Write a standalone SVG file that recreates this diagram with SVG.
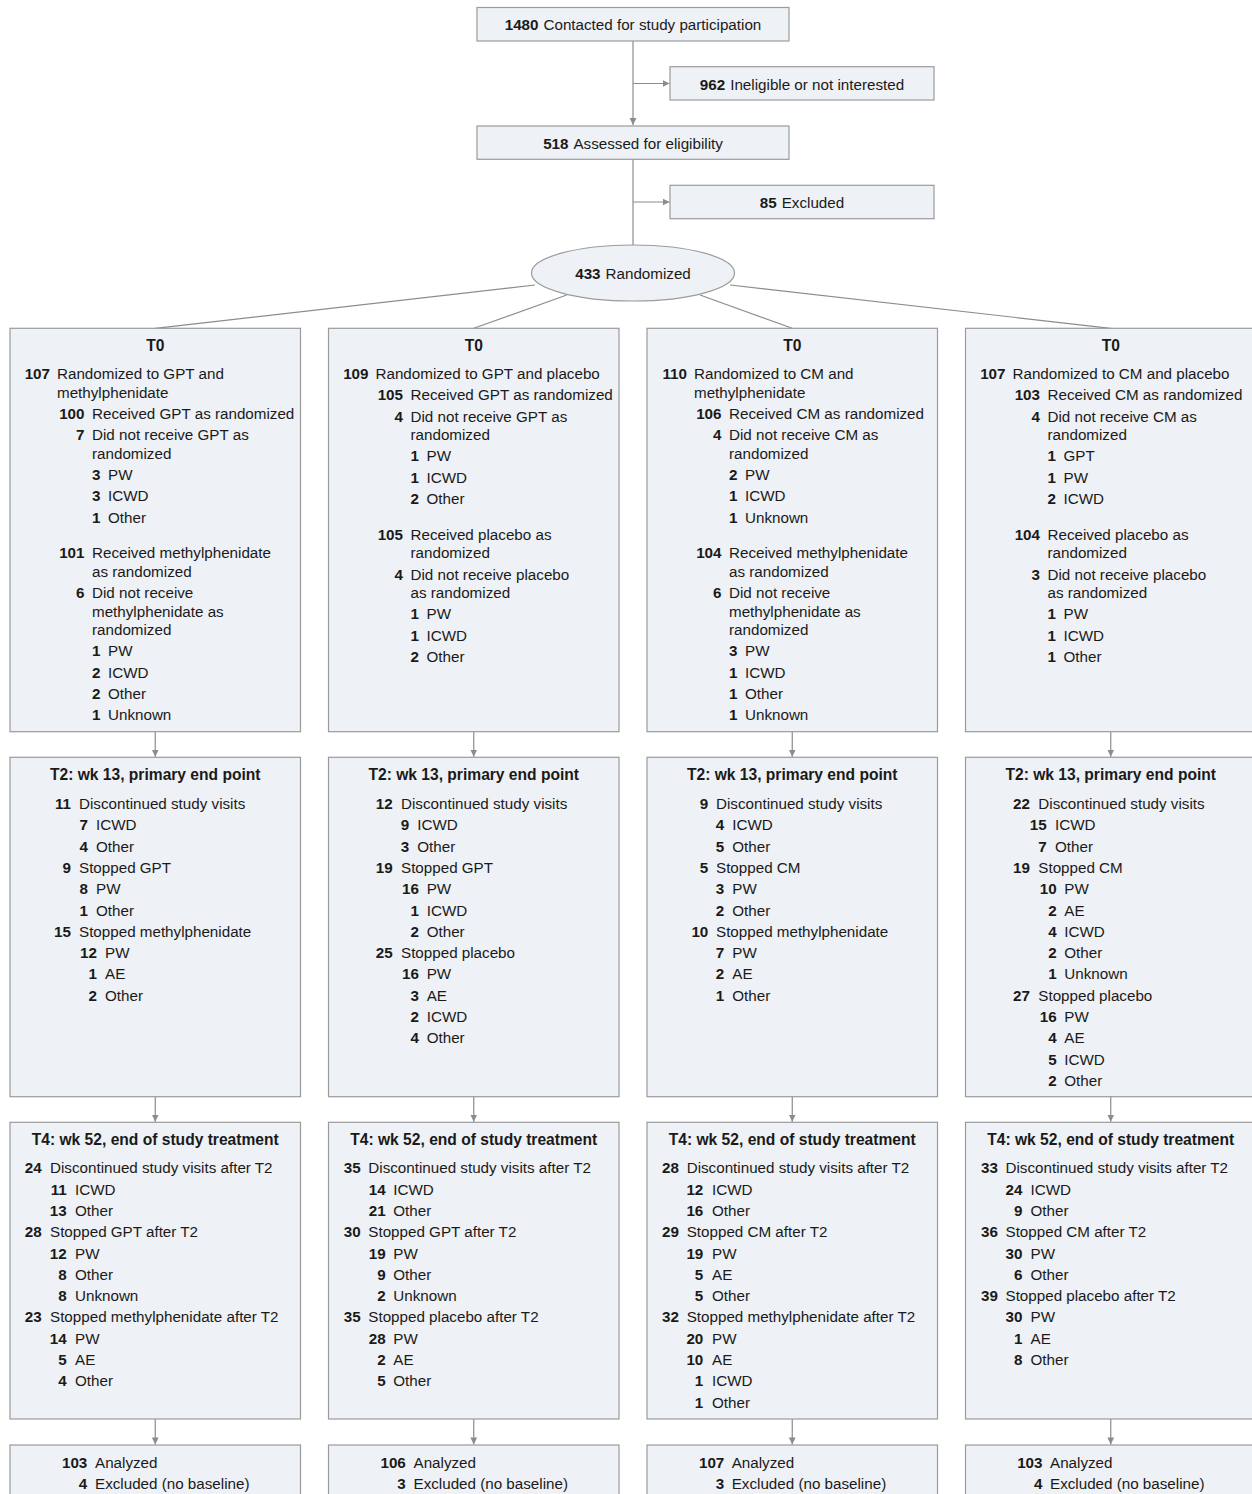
<svg xmlns="http://www.w3.org/2000/svg" width="1252" height="1494" viewBox="0 0 1252 1494">
<style>
text { font-family: "Liberation Sans", Arial, sans-serif; font-size: 15.2px; fill: #1a1a1a; }
.n { font-weight: bold; text-anchor: end; }
.b { font-weight: bold; }
.h { font-weight: bold; text-anchor: middle; font-size: 15.6px; }
.c { text-anchor: middle; }
.box { fill: #eef1f5; stroke: #9b9b9b; stroke-width: 1.2; }
.ln { stroke: #8c8c8c; stroke-width: 1.2; fill: none; }
</style>
<defs>
<marker id="ah" markerWidth="8" markerHeight="8" refX="7" refY="4" orient="auto" markerUnits="userSpaceOnUse"><path d="M0,0.6 L7,4 L0,7.4 Z" fill="#8c8c8c"/></marker>
</defs>
<rect width="1252" height="1494" fill="#ffffff"/>

<g id="connectors">
<path class="ln" d="M633,41 V125" marker-end="url(#ah)"/>
<path class="ln" d="M633,83.5 H669.5" marker-end="url(#ah)"/>
<path class="ln" d="M633,159.3 V245"/>
<path class="ln" d="M633,202 H669.5" marker-end="url(#ah)"/>
<path class="ln" d="M535,285 L155.25,328.3"/>
<path class="ln" d="M566.7,295 L473.75,328.3"/>
<path class="ln" d="M700,295 L792.25,328.3"/>
<path class="ln" d="M730,285 L1110.75,328.3"/>
<path class="ln" d="M155.25,731.7 V756.7" marker-end="url(#ah)"/>
<path class="ln" d="M473.75,731.7 V756.7" marker-end="url(#ah)"/>
<path class="ln" d="M792.25,731.7 V756.7" marker-end="url(#ah)"/>
<path class="ln" d="M1110.75,731.7 V756.7" marker-end="url(#ah)"/>
<path class="ln" d="M155.25,1096.7 V1121.7" marker-end="url(#ah)"/>
<path class="ln" d="M473.75,1096.7 V1121.7" marker-end="url(#ah)"/>
<path class="ln" d="M792.25,1096.7 V1121.7" marker-end="url(#ah)"/>
<path class="ln" d="M1110.75,1096.7 V1121.7" marker-end="url(#ah)"/>
<path class="ln" d="M155.25,1419 V1444.4" marker-end="url(#ah)"/>
<path class="ln" d="M473.75,1419 V1444.4" marker-end="url(#ah)"/>
<path class="ln" d="M792.25,1419 V1444.4" marker-end="url(#ah)"/>
<path class="ln" d="M1110.75,1419 V1444.4" marker-end="url(#ah)"/>
</g>

<g id="contacted">
<rect class="box" x="477" y="7.5" width="312" height="33.5"/>
<text class="c" x="633" y="30"><tspan class="b">1480</tspan><tspan dx="5">Contacted for study participation</tspan></text>
</g>
<g id="ineligible">
<rect class="box" x="670" y="66.7" width="264" height="33.3"/>
<text class="c" x="802" y="89.5"><tspan class="b">962</tspan><tspan dx="5">Ineligible or not interested</tspan></text>
</g>
<g id="assessed">
<rect class="box" x="477" y="126" width="312" height="33.3"/>
<text class="c" x="633" y="148.5"><tspan class="b">518</tspan><tspan dx="5">Assessed for eligibility</tspan></text>
</g>
<g id="excluded">
<rect class="box" x="670" y="185.3" width="264" height="33.4"/>
<text class="c" x="802" y="207.8"><tspan class="b">85</tspan><tspan dx="5">Excluded</tspan></text>
</g>
<g id="randomized">
<ellipse class="box" cx="633" cy="273" rx="101.5" ry="28"/>
<text class="c" x="633" y="278.5"><tspan class="b">433</tspan><tspan dx="5">Randomized</tspan></text>
</g>

<!-- T0 column 1 -->
<g id="t0-gpt-mph">
<rect class="box" x="10" y="328.3" width="290.5" height="403.4"/>
<text class="h" x="155.25" y="351">T0</text>
<text class="n" x="50" y="379">107</text><text x="57" y="379">Randomized to GPT and</text>
<text x="57" y="397.5">methylphenidate</text>
<text class="n" x="84.5" y="418.8">100</text><text x="92" y="418.8">Received GPT as randomized</text>
<text class="n" x="84.5" y="440.1">7</text><text x="92" y="440.1">Did not receive GPT as</text>
<text x="92" y="458.6">randomized</text>
<text class="n" x="100.5" y="479.9">3</text><text x="108" y="479.9">PW</text>
<text class="n" x="100.5" y="501.2">3</text><text x="108" y="501.2">ICWD</text>
<text class="n" x="100.5" y="522.5">1</text><text x="108" y="522.5">Other</text>
<text class="n" x="84.5" y="558.3">101</text><text x="92" y="558.3">Received methylphenidate</text>
<text x="92" y="576.8">as randomized</text>
<text class="n" x="84.5" y="598.1">6</text><text x="92" y="598.1">Did not receive</text>
<text x="92" y="616.6">methylphenidate as</text>
<text x="92" y="635.1">randomized</text>
<text class="n" x="100.5" y="656.4">1</text><text x="108" y="656.4">PW</text>
<text class="n" x="100.5" y="677.7">2</text><text x="108" y="677.7">ICWD</text>
<text class="n" x="100.5" y="699">2</text><text x="108" y="699">Other</text>
<text class="n" x="100.5" y="720.3">1</text><text x="108" y="720.3">Unknown</text>
</g>

<!-- T0 column 2 -->
<g id="t0-gpt-placebo">
<rect class="box" x="328.5" y="328.3" width="290.5" height="403.4"/>
<text class="h" x="473.75" y="351">T0</text>
<text class="n" x="368.5" y="379">109</text><text x="375.5" y="379">Randomized to GPT and placebo</text>
<text class="n" x="403" y="400.3">105</text><text x="410.5" y="400.3">Received GPT as randomized</text>
<text class="n" x="403" y="421.6">4</text><text x="410.5" y="421.6">Did not receive GPT as</text>
<text x="410.5" y="440.1">randomized</text>
<text class="n" x="419" y="461.4">1</text><text x="426.5" y="461.4">PW</text>
<text class="n" x="419" y="482.7">1</text><text x="426.5" y="482.7">ICWD</text>
<text class="n" x="419" y="504">2</text><text x="426.5" y="504">Other</text>
<text class="n" x="403" y="539.8">105</text><text x="410.5" y="539.8">Received placebo as</text>
<text x="410.5" y="558.3">randomized</text>
<text class="n" x="403" y="579.6">4</text><text x="410.5" y="579.6">Did not receive placebo</text>
<text x="410.5" y="598.1">as randomized</text>
<text class="n" x="419" y="619.4">1</text><text x="426.5" y="619.4">PW</text>
<text class="n" x="419" y="640.7">1</text><text x="426.5" y="640.7">ICWD</text>
<text class="n" x="419" y="662">2</text><text x="426.5" y="662">Other</text>
</g>

<!-- T0 column 3 -->
<g id="t0-cm-mph">
<rect class="box" x="647" y="328.3" width="290.5" height="403.4"/>
<text class="h" x="792.25" y="351">T0</text>
<text class="n" x="687" y="379">110</text><text x="694" y="379">Randomized to CM and</text>
<text x="694" y="397.5">methylphenidate</text>
<text class="n" x="721.5" y="418.8">106</text><text x="729" y="418.8">Received CM as randomized</text>
<text class="n" x="721.5" y="440.1">4</text><text x="729" y="440.1">Did not receive CM as</text>
<text x="729" y="458.6">randomized</text>
<text class="n" x="737.5" y="479.9">2</text><text x="745" y="479.9">PW</text>
<text class="n" x="737.5" y="501.2">1</text><text x="745" y="501.2">ICWD</text>
<text class="n" x="737.5" y="522.5">1</text><text x="745" y="522.5">Unknown</text>
<text class="n" x="721.5" y="558.3">104</text><text x="729" y="558.3">Received methylphenidate</text>
<text x="729" y="576.8">as randomized</text>
<text class="n" x="721.5" y="598.1">6</text><text x="729" y="598.1">Did not receive</text>
<text x="729" y="616.6">methylphenidate as</text>
<text x="729" y="635.1">randomized</text>
<text class="n" x="737.5" y="656.4">3</text><text x="745" y="656.4">PW</text>
<text class="n" x="737.5" y="677.7">1</text><text x="745" y="677.7">ICWD</text>
<text class="n" x="737.5" y="699">1</text><text x="745" y="699">Other</text>
<text class="n" x="737.5" y="720.3">1</text><text x="745" y="720.3">Unknown</text>
</g>

<!-- T0 column 4 -->
<g id="t0-cm-placebo">
<rect class="box" x="965.5" y="328.3" width="290.5" height="403.4"/>
<text class="h" x="1110.75" y="351">T0</text>
<text class="n" x="1005.5" y="379">107</text><text x="1012.5" y="379">Randomized to CM and placebo</text>
<text class="n" x="1040" y="400.3">103</text><text x="1047.5" y="400.3">Received CM as randomized</text>
<text class="n" x="1040" y="421.6">4</text><text x="1047.5" y="421.6">Did not receive CM as</text>
<text x="1047.5" y="440.1">randomized</text>
<text class="n" x="1056" y="461.4">1</text><text x="1063.5" y="461.4">GPT</text>
<text class="n" x="1056" y="482.7">1</text><text x="1063.5" y="482.7">PW</text>
<text class="n" x="1056" y="504">2</text><text x="1063.5" y="504">ICWD</text>
<text class="n" x="1040" y="539.8">104</text><text x="1047.5" y="539.8">Received placebo as</text>
<text x="1047.5" y="558.3">randomized</text>
<text class="n" x="1040" y="579.6">3</text><text x="1047.5" y="579.6">Did not receive placebo</text>
<text x="1047.5" y="598.1">as randomized</text>
<text class="n" x="1056" y="619.4">1</text><text x="1063.5" y="619.4">PW</text>
<text class="n" x="1056" y="640.7">1</text><text x="1063.5" y="640.7">ICWD</text>
<text class="n" x="1056" y="662">1</text><text x="1063.5" y="662">Other</text>
</g>

<!-- T2 column 1 -->
<g id="t2-gpt-mph">
<rect class="box" x="10" y="757.3" width="290.5" height="339.4"/>
<text class="h" x="155.25" y="780">T2: wk 13, primary end point</text>
<text class="n" x="71" y="809">11</text><text x="79" y="809">Discontinued study visits</text>
<text class="n" x="88" y="830.3">7</text><text x="96" y="830.3">ICWD</text>
<text class="n" x="88" y="851.6">4</text><text x="96" y="851.6">Other</text>
<text class="n" x="71" y="872.9">9</text><text x="79" y="872.9">Stopped GPT</text>
<text class="n" x="88" y="894.2">8</text><text x="96" y="894.2">PW</text>
<text class="n" x="88" y="915.5">1</text><text x="96" y="915.5">Other</text>
<text class="n" x="71" y="936.8">15</text><text x="79" y="936.8">Stopped methylphenidate</text>
<text class="n" x="97" y="958.1">12</text><text x="105" y="958.1">PW</text>
<text class="n" x="97" y="979.4">1</text><text x="105" y="979.4">AE</text>
<text class="n" x="97" y="1000.7">2</text><text x="105" y="1000.7">Other</text>
</g>

<!-- T2 column 2 -->
<g id="t2-gpt-placebo">
<rect class="box" x="328.5" y="757.3" width="290.5" height="339.4"/>
<text class="h" x="473.75" y="780">T2: wk 13, primary end point</text>
<text class="n" x="392.7" y="809">12</text><text x="401" y="809">Discontinued study visits</text>
<text class="n" x="409.3" y="830.3">9</text><text x="417.3" y="830.3">ICWD</text>
<text class="n" x="409.3" y="851.6">3</text><text x="417.3" y="851.6">Other</text>
<text class="n" x="392.7" y="872.9">19</text><text x="401" y="872.9">Stopped GPT</text>
<text class="n" x="419" y="894.2">16</text><text x="426.7" y="894.2">PW</text>
<text class="n" x="419" y="915.5">1</text><text x="426.7" y="915.5">ICWD</text>
<text class="n" x="419" y="936.8">2</text><text x="426.7" y="936.8">Other</text>
<text class="n" x="392.7" y="958.1">25</text><text x="401" y="958.1">Stopped placebo</text>
<text class="n" x="419" y="979.4">16</text><text x="426.7" y="979.4">PW</text>
<text class="n" x="419" y="1000.7">3</text><text x="426.7" y="1000.7">AE</text>
<text class="n" x="419" y="1022">2</text><text x="426.7" y="1022">ICWD</text>
<text class="n" x="419" y="1043.3">4</text><text x="426.7" y="1043.3">Other</text>
</g>

<!-- T2 column 3 -->
<g id="t2-cm-mph">
<rect class="box" x="647" y="757.3" width="290.5" height="339.4"/>
<text class="h" x="792.25" y="780">T2: wk 13, primary end point</text>
<text class="n" x="708.3" y="809">9</text><text x="716" y="809">Discontinued study visits</text>
<text class="n" x="724.3" y="830.3">4</text><text x="732.3" y="830.3">ICWD</text>
<text class="n" x="724.3" y="851.6">5</text><text x="732.3" y="851.6">Other</text>
<text class="n" x="708.3" y="872.9">5</text><text x="716" y="872.9">Stopped CM</text>
<text class="n" x="724.3" y="894.2">3</text><text x="732.3" y="894.2">PW</text>
<text class="n" x="724.3" y="915.5">2</text><text x="732.3" y="915.5">Other</text>
<text class="n" x="708.3" y="936.8">10</text><text x="716" y="936.8">Stopped methylphenidate</text>
<text class="n" x="724.3" y="958.1">7</text><text x="732.3" y="958.1">PW</text>
<text class="n" x="724.3" y="979.4">2</text><text x="732.3" y="979.4">AE</text>
<text class="n" x="724.3" y="1000.7">1</text><text x="732.3" y="1000.7">Other</text>
</g>

<!-- T2 column 4 -->
<g id="t2-cm-placebo">
<rect class="box" x="965.5" y="757.3" width="290.5" height="339.4"/>
<text class="h" x="1110.75" y="780">T2: wk 13, primary end point</text>
<text class="n" x="1030" y="809">22</text><text x="1038.3" y="809">Discontinued study visits</text>
<text class="n" x="1046.7" y="830.3">15</text><text x="1055" y="830.3">ICWD</text>
<text class="n" x="1046.7" y="851.6">7</text><text x="1055" y="851.6">Other</text>
<text class="n" x="1030" y="872.9">19</text><text x="1038.3" y="872.9">Stopped CM</text>
<text class="n" x="1056.7" y="894.2">10</text><text x="1064.3" y="894.2">PW</text>
<text class="n" x="1056.7" y="915.5">2</text><text x="1064.3" y="915.5">AE</text>
<text class="n" x="1056.7" y="936.8">4</text><text x="1064.3" y="936.8">ICWD</text>
<text class="n" x="1056.7" y="958.1">2</text><text x="1064.3" y="958.1">Other</text>
<text class="n" x="1056.7" y="979.4">1</text><text x="1064.3" y="979.4">Unknown</text>
<text class="n" x="1030" y="1000.7">27</text><text x="1038.3" y="1000.7">Stopped placebo</text>
<text class="n" x="1056.7" y="1022">16</text><text x="1064.3" y="1022">PW</text>
<text class="n" x="1056.7" y="1043.3">4</text><text x="1064.3" y="1043.3">AE</text>
<text class="n" x="1056.7" y="1064.6">5</text><text x="1064.3" y="1064.6">ICWD</text>
<text class="n" x="1056.7" y="1085.9">2</text><text x="1064.3" y="1085.9">Other</text>
</g>

<!-- T4 column 1 -->
<g id="t4-gpt-mph">
<rect class="box" x="10" y="1122.3" width="290.5" height="296.7"/>
<text class="h" x="155.25" y="1145">T4: wk 52, end of study treatment</text>
<text class="n" x="41.7" y="1173.3">24</text><text x="50" y="1173.3">Discontinued study visits after T2</text>
<text class="n" x="66.7" y="1194.6">11</text><text x="75" y="1194.6">ICWD</text>
<text class="n" x="66.7" y="1215.9">13</text><text x="75" y="1215.9">Other</text>
<text class="n" x="41.7" y="1237.2">28</text><text x="50" y="1237.2">Stopped GPT after T2</text>
<text class="n" x="66.7" y="1258.5">12</text><text x="75" y="1258.5">PW</text>
<text class="n" x="66.7" y="1279.8">8</text><text x="75" y="1279.8">Other</text>
<text class="n" x="66.7" y="1301.1">8</text><text x="75" y="1301.1">Unknown</text>
<text class="n" x="41.7" y="1322.4">23</text><text x="50" y="1322.4">Stopped methylphenidate after T2</text>
<text class="n" x="66.7" y="1343.7">14</text><text x="75" y="1343.7">PW</text>
<text class="n" x="66.7" y="1365">5</text><text x="75" y="1365">AE</text>
<text class="n" x="66.7" y="1386.3">4</text><text x="75" y="1386.3">Other</text>
</g>

<!-- T4 column 2 -->
<g id="t4-gpt-placebo">
<rect class="box" x="328.5" y="1122.3" width="290.5" height="296.7"/>
<text class="h" x="473.75" y="1145">T4: wk 52, end of study treatment</text>
<text class="n" x="360.7" y="1173.3">35</text><text x="368.3" y="1173.3">Discontinued study visits after T2</text>
<text class="n" x="385.7" y="1194.6">14</text><text x="393.3" y="1194.6">ICWD</text>
<text class="n" x="385.7" y="1215.9">21</text><text x="393.3" y="1215.9">Other</text>
<text class="n" x="360.7" y="1237.2">30</text><text x="368.3" y="1237.2">Stopped GPT after T2</text>
<text class="n" x="385.7" y="1258.5">19</text><text x="393.3" y="1258.5">PW</text>
<text class="n" x="385.7" y="1279.8">9</text><text x="393.3" y="1279.8">Other</text>
<text class="n" x="385.7" y="1301.1">2</text><text x="393.3" y="1301.1">Unknown</text>
<text class="n" x="360.7" y="1322.4">35</text><text x="368.3" y="1322.4">Stopped placebo after T2</text>
<text class="n" x="385.7" y="1343.7">28</text><text x="393.3" y="1343.7">PW</text>
<text class="n" x="385.7" y="1365">2</text><text x="393.3" y="1365">AE</text>
<text class="n" x="385.7" y="1386.3">5</text><text x="393.3" y="1386.3">Other</text>
</g>

<!-- T4 column 3 -->
<g id="t4-cm-mph">
<rect class="box" x="647" y="1122.3" width="290.5" height="296.7"/>
<text class="h" x="792.25" y="1145">T4: wk 52, end of study treatment</text>
<text class="n" x="679" y="1173.3">28</text><text x="686.7" y="1173.3">Discontinued study visits after T2</text>
<text class="n" x="703.3" y="1194.6">12</text><text x="712" y="1194.6">ICWD</text>
<text class="n" x="703.3" y="1215.9">16</text><text x="712" y="1215.9">Other</text>
<text class="n" x="679" y="1237.2">29</text><text x="686.7" y="1237.2">Stopped CM after T2</text>
<text class="n" x="703.3" y="1258.5">19</text><text x="712" y="1258.5">PW</text>
<text class="n" x="703.3" y="1279.8">5</text><text x="712" y="1279.8">AE</text>
<text class="n" x="703.3" y="1301.1">5</text><text x="712" y="1301.1">Other</text>
<text class="n" x="679" y="1322.4">32</text><text x="686.7" y="1322.4">Stopped methylphenidate after T2</text>
<text class="n" x="703.3" y="1343.7">20</text><text x="712" y="1343.7">PW</text>
<text class="n" x="703.3" y="1365">10</text><text x="712" y="1365">AE</text>
<text class="n" x="703.3" y="1386.3">1</text><text x="712" y="1386.3">ICWD</text>
<text class="n" x="703.3" y="1407.6">1</text><text x="712" y="1407.6">Other</text>
</g>

<!-- T4 column 4 -->
<g id="t4-cm-placebo">
<rect class="box" x="965.5" y="1122.3" width="290.5" height="296.7"/>
<text class="h" x="1110.75" y="1145">T4: wk 52, end of study treatment</text>
<text class="n" x="998" y="1173.3">33</text><text x="1005.5" y="1173.3">Discontinued study visits after T2</text>
<text class="n" x="1022.5" y="1194.6">24</text><text x="1030.5" y="1194.6">ICWD</text>
<text class="n" x="1022.5" y="1215.9">9</text><text x="1030.5" y="1215.9">Other</text>
<text class="n" x="998" y="1237.2">36</text><text x="1005.5" y="1237.2">Stopped CM after T2</text>
<text class="n" x="1022.5" y="1258.5">30</text><text x="1030.5" y="1258.5">PW</text>
<text class="n" x="1022.5" y="1279.8">6</text><text x="1030.5" y="1279.8">Other</text>
<text class="n" x="998" y="1301.1">39</text><text x="1005.5" y="1301.1">Stopped placebo after T2</text>
<text class="n" x="1022.5" y="1322.4">30</text><text x="1030.5" y="1322.4">PW</text>
<text class="n" x="1022.5" y="1343.7">1</text><text x="1030.5" y="1343.7">AE</text>
<text class="n" x="1022.5" y="1365">8</text><text x="1030.5" y="1365">Other</text>
</g>

<!-- Analyzed -->
<g id="an-gpt-mph">
<rect class="box" x="10" y="1445" width="290.5" height="60"/>
<text class="n" x="87.3" y="1467.7">103</text><text x="95" y="1467.7">Analyzed</text>
<text class="n" x="87.3" y="1488.8">4</text><text x="95" y="1488.8">Excluded (no baseline)</text>
</g>
<g id="an-gpt-placebo">
<rect class="box" x="328.5" y="1445" width="290.5" height="60"/>
<text class="n" x="405.8" y="1467.7">106</text><text x="413.5" y="1467.7">Analyzed</text>
<text class="n" x="405.8" y="1488.8">3</text><text x="413.5" y="1488.8">Excluded (no baseline)</text>
</g>
<g id="an-cm-mph">
<rect class="box" x="647" y="1445" width="290.5" height="60"/>
<text class="n" x="724.3" y="1467.7">107</text><text x="731.7" y="1467.7">Analyzed</text>
<text class="n" x="724.3" y="1488.8">3</text><text x="731.7" y="1488.8">Excluded (no baseline)</text>
</g>
<g id="an-cm-placebo">
<rect class="box" x="965.5" y="1445" width="290.5" height="60"/>
<text class="n" x="1042.5" y="1467.7">103</text><text x="1050" y="1467.7">Analyzed</text>
<text class="n" x="1042.5" y="1488.8">4</text><text x="1050" y="1488.8">Excluded (no baseline)</text>
</g>
</svg>
